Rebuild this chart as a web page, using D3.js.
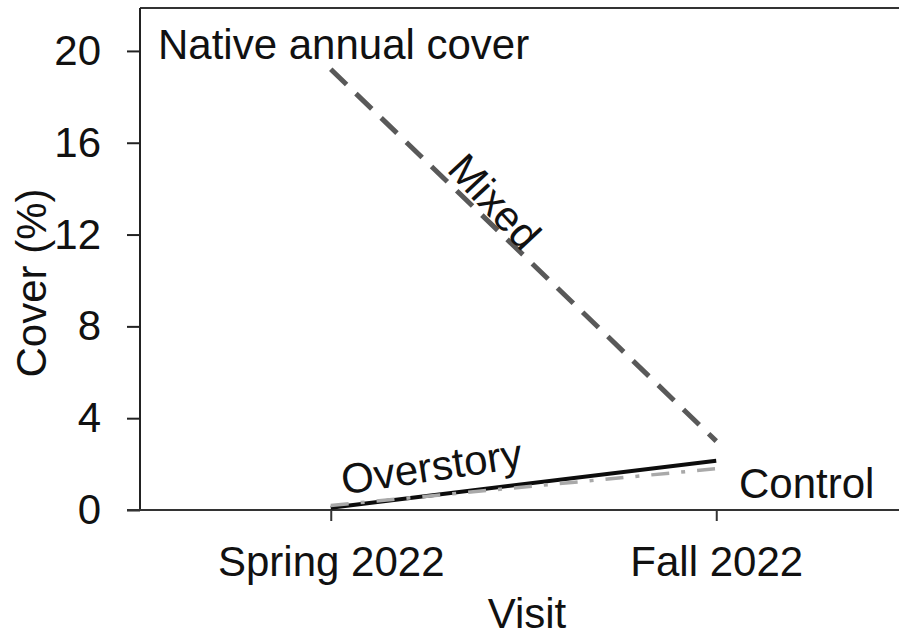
<!DOCTYPE html>
<html>
<head>
<meta charset="utf-8">
<script src="https://cdn.jsdelivr.net/npm/d3@7"></script>
<style>
  html, body { margin: 0; padding: 0; background: #fff; }
  svg text { font-family: "Liberation Sans", Arial, sans-serif; fill: #111; }
</style>
</head>
<body>
<svg id="chart" width="899" height="641"></svg>
<script>
// Native annual cover (%) by visit and treatment
const visits = ["Spring 2022", "Fall 2022"];
const mixedCover = [19.2, 3.0];
const overstoryCover = [0.1, 2.15];
const controlCover = [0.2, 1.8];
const yTicks = [0, 4, 8, 12, 16, 20];

const svg = d3.select("#chart");
const plotLeft = 140, plotRight = 899, plotTop = 8, plotBottom = 510;

const x = d3.scalePoint().domain(visits).range([138, 909]).padding(0.5);
const y = d3.scaleLinear().domain([0, 21.87]).range([plotBottom, plotTop]);

// frame: top border, left axis, bottom axis
svg.append("line").attr("x1", plotLeft).attr("x2", plotRight).attr("y1", plotTop).attr("y2", plotTop)
  .attr("stroke", "#333").attr("stroke-width", 2);

const yAxis = svg.append("g").attr("transform", `translate(${plotLeft},0)`)
  .call(d3.axisLeft(y).tickValues(yTicks).tickSize(13).tickPadding(26).tickFormat(d3.format("d")));
yAxis.select(".domain").attr("d", `M0,${plotTop}V${plotBottom}`).attr("stroke", "#222").attr("stroke-width", 2);
yAxis.selectAll(".tick line").attr("stroke", "#222").attr("stroke-width", 2);
yAxis.selectAll(".tick text").attr("font-size", 42).attr("fill", "#111")
  .attr("font-family", "Liberation Sans, Arial, sans-serif");

const xAxis = svg.append("g").attr("transform", `translate(0,${plotBottom})`)
  .call(d3.axisBottom(x).tickSize(11).tickPadding(25));
xAxis.select(".domain").attr("d", `M127,0H${plotRight}`).attr("stroke", "#333").attr("stroke-width", 2);
xAxis.selectAll(".tick line").attr("stroke", "#333").attr("stroke-width", 2);
xAxis.selectAll(".tick text").attr("font-size", 42).attr("fill", "#111")
  .attr("font-family", "Liberation Sans, Arial, sans-serif");

// axis titles
svg.append("text").attr("x", 527).attr("y", 628).attr("text-anchor", "middle")
  .attr("font-size", 42).text("Visit");
svg.append("text").attr("transform", "translate(46,283) rotate(-90)").attr("text-anchor", "middle")
  .attr("font-size", 42).text("Cover (%)");

// series lines
const line = d3.line().x((d, i) => x(visits[i])).y(d => y(d));

svg.append("path").datum(overstoryCover).attr("d", line)
  .attr("fill", "none").attr("stroke", "#0d0d0d").attr("stroke-width", 4);
svg.append("path").datum(controlCover).attr("d", line)
  .attr("fill", "none").attr("stroke", "#a9a9a9").attr("stroke-width", 3.5)
  .attr("stroke-dasharray", "18 12 4 12");
svg.append("path").datum(mixedCover).attr("d", line)
  .attr("fill", "none").attr("stroke", "#595959").attr("stroke-width", 5)
  .attr("stroke-dasharray", "22 13");

// annotations
svg.append("text").attr("x", 158).attr("y", 59).attr("font-size", 42).text("Native annual cover");
svg.append("text").attr("transform", "translate(492,204) rotate(47)").attr("text-anchor", "middle")
  .attr("dominant-baseline", "middle").attr("font-size", 42).text("Mixed");
svg.append("text").attr("transform", "translate(432,470) rotate(-8.5)").attr("text-anchor", "middle")
  .attr("dominant-baseline", "middle").attr("font-size", 42).text("Overstory");
svg.append("text").attr("x", 739).attr("y", 498).attr("font-size", 42).text("Control");
</script>
</body>
</html>
